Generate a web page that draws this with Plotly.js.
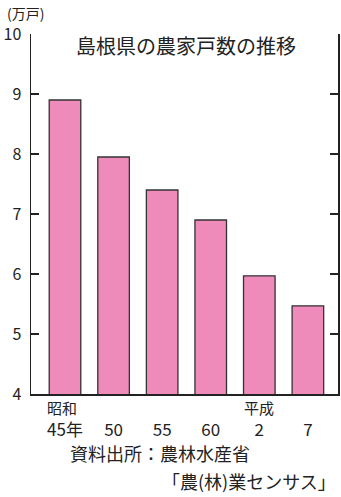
<!DOCTYPE html>
<html>
<head>
<meta charset="utf-8">
<script src="https://cdn.plot.ly/plotly-3.0.1.min.js"></script>
<style>
  html, body { margin: 0; padding: 0; background: #fff; }
  #chart { width: 341px; height: 497px; }
</style>
</head>
<body>
<div id="chart"></div>
<script>
// 島根県の農家戸数 (万戸)
const years = ['45年', '50', '55', '60', '2', '7'];
const households = [8.9, 7.95, 7.4, 6.9, 5.97, 5.47];
const eras = [
  { label: '昭和', index: 0 },
  { label: '平成', index: 4 }
];
const yTicks = [4, 5, 6, 7, 8, 9, 10];

const FONT = '"Noto Sans CJK JP", "Noto Sans", sans-serif';
const INK = '#222';

const trace = {
  type: 'bar',
  x: years,
  y: households,
  marker: {
    color: '#ef8bba',
    line: { color: '#333', width: 1.3 }
  },
  hoverinfo: 'skip'
};

// era names sit above the first year of each era
const annotations = eras.map(e => ({
  x: e.index, xref: 'x',
  y: 0, yref: 'paper',
  yshift: -13,
  xshift: e.index === 0 ? -3 : 0,
  text: e.label,
  showarrow: false,
  xanchor: 'center', yanchor: 'middle',
  font: { family: FONT, size: 15, color: INK }
}));

annotations.push(
  {
    text: '(万戸)',
    xref: 'paper', yref: 'paper', x: -0.085, y: 1.0, yshift: 21,
    xanchor: 'left', yanchor: 'middle', showarrow: false,
    font: { family: FONT, size: 14, color: INK }
  },
  {
    text: '島根県の農家戸数の推移',
    xref: 'paper', yref: 'paper', x: 0.505, y: 1.0, yshift: -11,
    xanchor: 'center', yanchor: 'middle', showarrow: false,
    font: { family: FONT, size: 20, color: INK }
  },
  {
    text: '資料出所：農林水産省',
    xref: 'paper', yref: 'paper', x: 0.12, y: 0, yshift: -59,
    xanchor: 'left', yanchor: 'middle', showarrow: false,
    font: { family: FONT, size: 18, color: INK }
  },
  {
    text: '「農(林)業センサス」',
    xref: 'paper', yref: 'paper', x: 1.0, y: 0, yshift: -87,
    xanchor: 'right', yanchor: 'middle', showarrow: false,
    font: { family: FONT, size: 18, color: INK }
  }
);

const layout = {
  width: 341,
  height: 497,
  margin: { l: 31, r: 3, t: 34, b: 103 },
  paper_bgcolor: '#fff',
  plot_bgcolor: '#fff',
  showlegend: false,
  bargap: 0.35,
  font: { family: FONT, color: INK },
  xaxis: {
    type: 'category',
    range: [-0.7, 5.62],
    showline: true,
    linecolor: INK,
    linewidth: 1.6,
    ticks: '',
    showgrid: false,
    zeroline: false,
    tickfont: { family: FONT, size: 17, color: INK },
    ticklabelstandoff: 20
  },
  yaxis: {
    range: [4, 10],
    tickvals: yTicks,
    ticktext: yTicks.map(String),
    showline: true,
    mirror: 'ticks',
    linecolor: INK,
    linewidth: 1.5,
    ticks: 'inside',
    ticklen: 8,
    tickwidth: 1.3,
    tickcolor: INK,
    showgrid: false,
    zeroline: false,
    tickfont: { family: FONT, size: 16, color: INK },
    ticklabelstandoff: 5
  },
  annotations: annotations
};

Plotly.newPlot('chart', [trace], layout, { displayModeBar: false, staticPlot: true });
</script>
</body>
</html>
